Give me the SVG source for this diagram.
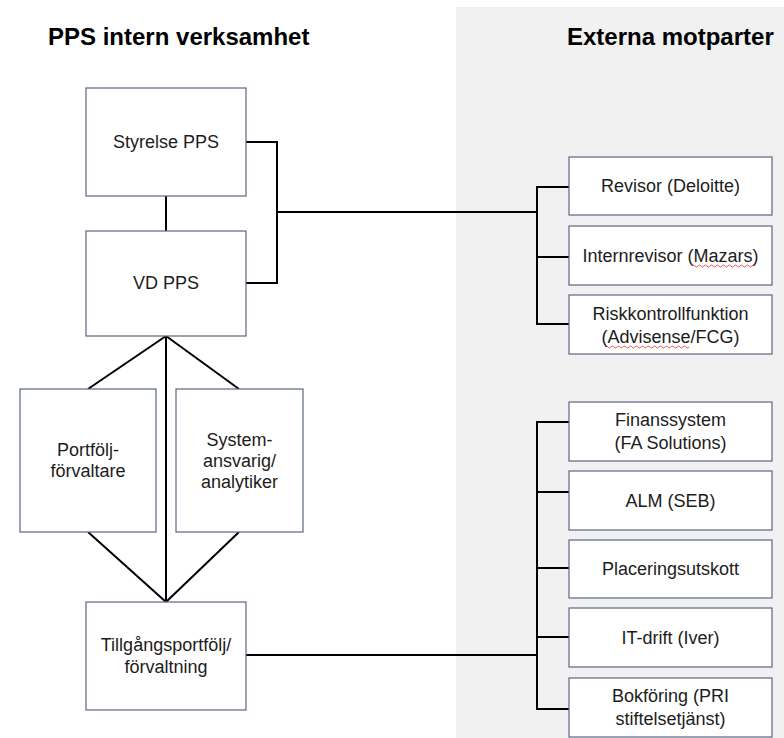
<svg xmlns="http://www.w3.org/2000/svg" width="784" height="738" viewBox="0 0 784 738">
<style>
.box{fill:#ffffff;stroke:#5b6684;stroke-width:1.2}
.t{font-family:"Liberation Sans",Arial,sans-serif;font-size:18px;fill:#1c1c1c;text-anchor:middle}
.h{font-family:"Liberation Sans",Arial,sans-serif;font-size:24px;font-weight:bold;fill:#000000}
.c{fill:none;stroke:#000000;stroke-width:2}
.sq{fill:none;stroke:#e03030;stroke-width:0.8}
</style>
<rect x="0" y="0" width="784" height="738" fill="#ffffff"/>
<rect x="456" y="7" width="328" height="731" fill="#f1f1f1"/>
<text class="h" x="48" y="45">PPS intern verksamhet</text>
<text class="h" x="567" y="45">Externa motparter</text>
<g id="connectors">
<path class="c" d="M166,196 V231"/>
<path class="c" d="M246,142 H277 V283 H246"/>
<path class="c" d="M277,212 H537"/>
<path class="c" d="M569,187 H537 V324 H569 M537,257 H569"/>
<path class="c" d="M166,336 L88,389 M166,336 L239,389 M166,336 V602 M88,532 L166,602 M239,532 L166,602"/>
<path class="c" d="M246,655 H537"/>
<path class="c" d="M569,422 H537 V709 H569 M537,492 H569 M537,568 H569 M537,637 H569"/>
</g>
<g id="styrelse"><rect class="box" x="86" y="88" width="160" height="108"/><text class="t" x="166" y="148">Styrelse PPS</text></g>
<g id="vd"><rect class="box" x="86" y="231" width="160" height="105"/><text class="t" x="166" y="289">VD PPS</text></g>
<g id="portfolj"><rect class="box" x="20" y="389" width="136" height="143"/><text class="t" x="88" y="456">Portfölj-</text><text class="t" x="88" y="477">förvaltare</text></g>
<g id="system"><rect class="box" x="176" y="389" width="127" height="143"/><text class="t" x="239.5" y="446">System-</text><text class="t" x="239.5" y="467">ansvarig/</text><text class="t" x="239.5" y="488">analytiker</text></g>
<g id="tillgang"><rect class="box" x="86" y="602" width="160" height="108"/><text class="t" x="166" y="651">Tillgångsportfölj/</text><text class="t" x="166" y="673">förvaltning</text></g>
<g id="revisor"><rect class="box" x="569" y="157" width="203" height="58"/><text class="t" x="670.5" y="192">Revisor (Deloitte)</text></g>
<g id="internrevisor"><rect class="box" x="569" y="226" width="203" height="59"/><text class="t" x="670.5" y="262">Internrevisor (Mazars)</text><path class="sq" d="M692,266 q1.5,-2 3,0 t3,0 t3,0 t3,0 t3,0 t3,0 t3,0 t3,0 t3,0 t3,0 t3,0 t3,0 t3,0 t3,0 t3,0 t3,0 t3,0 t3,0 t3,0 t3,0 t3,0"/></g>
<g id="risk"><rect class="box" x="569" y="295" width="203" height="59"/><text class="t" x="670.5" y="320">Riskkontrollfunktion</text><text class="t" x="670.5" y="343">(Advisense/FCG)</text><path class="sq" d="M605,347 q1.5,-2 3,0 t3,0 t3,0 t3,0 t3,0 t3,0 t3,0 t3,0 t3,0 t3,0 t3,0 t3,0 t3,0 t3,0 t3,0 t3,0 t3,0 t3,0 t3,0 t3,0 t3,0 t3,0 t3,0 t3,0 t3,0 t3,0 t3,0 t3,0"/></g>
<g id="finans"><rect class="box" x="569" y="402" width="203" height="59"/><text class="t" x="670.5" y="426">Finanssystem</text><text class="t" x="670.5" y="449">(FA Solutions)</text></g>
<g id="alm"><rect class="box" x="569" y="471" width="203" height="59"/><text class="t" x="670.5" y="507">ALM (SEB)</text></g>
<g id="placering"><rect class="box" x="569" y="540" width="203" height="58"/><text class="t" x="670.5" y="575">Placeringsutskott</text></g>
<g id="itdrift"><rect class="box" x="569" y="608" width="203" height="59"/><text class="t" x="670.5" y="644">IT-drift (Iver)</text></g>
<g id="bokforing"><rect class="box" x="569" y="678" width="203" height="59"/><text class="t" x="670.5" y="702">Bokföring (PRI</text><text class="t" x="670.5" y="725">stiftelsetjänst)</text></g>
</svg>
